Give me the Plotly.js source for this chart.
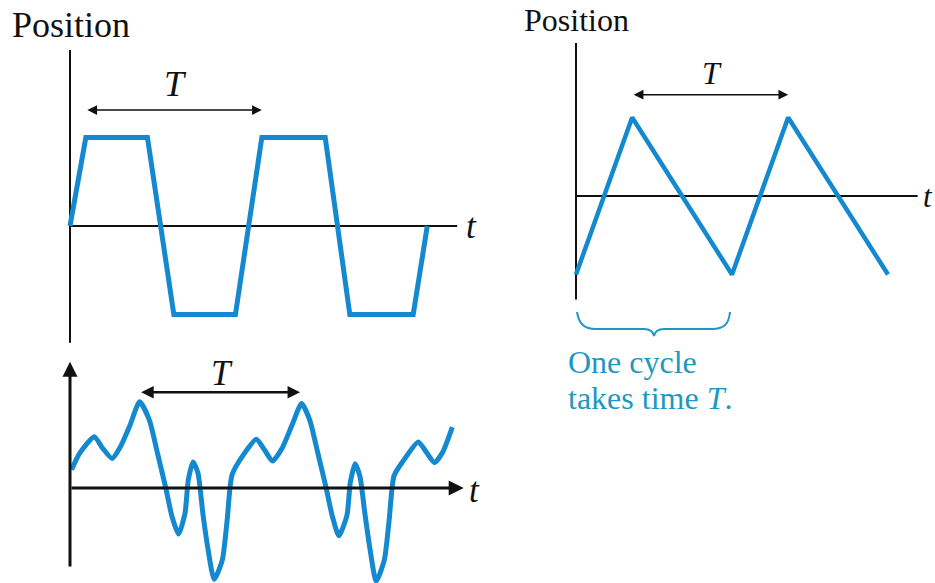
<html lang="en">
  <head>
    <meta charset="UTF-8" />
    <script src="https://cdn.plot.ly/plotly-3.0.1.min.js"></script>
    <style>
      #chart .annotation-text { font-family: 'Liberation Serif', 'Times New Roman', serif !important; }
    </style>
  </head>
  <body style="margin: 0">
    <div id="chart" style="width: 935px; height: 583px;"></div>
    <script>
      // top left: trapezoid wave, time in units of the period T
      const trapT = [0, 0.09, 0.44, 0.59, 0.94, 1.09, 1.45, 1.59, 1.95, 2.03];
      const trapY = [0, 1, 1, -1, -1, 1, 1, -1, -1, 0];

      // right: triangle wave
      const triT = [0, 0.36, 1.0, 1.36, 2.0];
      const triY = [-1, 1, -1, 1, -1];

      // bottom left: irregular but periodic wave
      const waveT = [0.01, 0.06, 0.15, 0.20, 0.26, 0.31, 0.37, 0.43, 0.49, 0.54, 0.59, 0.63, 0.67,
                     0.71, 0.73, 0.76, 0.79, 0.82, 0.85, 0.89, 0.94, 0.97, 1.0,
                     1.07, 1.15, 1.20, 1.25, 1.31, 1.37, 1.43, 1.48, 1.53, 1.58, 1.62, 1.66,
                     1.71, 1.73, 1.76, 1.79, 1.82, 1.85, 1.89, 1.94, 1.97, 2.0,
                     2.06, 2.15, 2.20, 2.25, 2.30, 2.36];
      const waveY = [0.21, 0.40, 0.59, 0.46, 0.34, 0.47, 0.72, 0.99, 0.78, 0.40, 0.01, -0.33, -0.53,
                     -0.29, 0.09, 0.30, 0.17, -0.29, -0.68, -1.05, -0.83, -0.37, 0.15,
                     0.38, 0.56, 0.44, 0.31, 0.46, 0.72, 0.97, 0.78, 0.40, 0.01, -0.33, -0.55,
                     -0.31, 0.06, 0.28, 0.13, -0.29, -0.68, -1.07, -0.83, -0.37, 0.14,
                     0.32, 0.53, 0.41, 0.29, 0.41, 0.70];

      const axisLabel = 'Position';
      const timeLabel = 't';
      const periodLabel = 'T';
      const noteLines = ['One cycle', 'takes time <i>T</i>.'];

      const W = 935, H = 583;
      const BLUE = '#1589cf';
      const TEAL = '#1f97c3';
      const INK = '#111';
      const SERIF = 'Liberation Serif';

      // place a subplot so that data (0,0) lands on pixel (ox,oy), sx/sy pixels per unit
      function frame(px0, px1, py0, py1, ox, oy, sx, sy, n) {
        const sfx = n === 1 ? '' : n;
        return {
          x: { domain: [px0 / W, px1 / W], range: [(px0 - ox) / sx, (px1 - ox) / sx],
               visible: false, fixedrange: true, anchor: 'y' + sfx },
          y: { domain: [1 - py1 / H, 1 - py0 / H], range: [(oy - py1) / sy, (oy - py0) / sy],
               visible: false, fixedrange: true, anchor: 'x' + sfx }
        };
      }
      const fA = frame(60, 470, 40, 352, 70, 226, 176, 88.5, 1);
      const fB = frame(55, 482, 354, 583, 70, 488, 162, 87, 2);
      const fC = frame(565, 932, 35, 346, 576, 196, 156, 78.5, 3);

      const px = x => x / W;
      const py = y => 1 - y / H;

      const traces = [
        { x: trapT, y: trapY, xaxis: 'x', yaxis: 'y', type: 'scatter', mode: 'lines',
          line: { color: BLUE, width: 5, shape: 'linear' } },
        { x: waveT, y: waveY, xaxis: 'x2', yaxis: 'y2', type: 'scatter', mode: 'lines',
          line: { color: BLUE, width: 5, shape: 'spline', smoothing: 0.6 } },
        { x: triT, y: triY, xaxis: 'x3', yaxis: 'y3', type: 'scatter', mode: 'lines',
          line: { color: BLUE, width: 4.5, shape: 'linear' } }
      ];

      const axisLine = (xr, yr, x0, y0, x1, y1, w) => ({
        type: 'line', xref: xr, yref: yr, x0: x0, y0: y0, x1: x1, y1: y1,
        line: { color: INK, width: w }, layer: 'below'
      });

      const P = (x, y) => px(x).toFixed(4) + ',' + py(y).toFixed(4);
      const bracePath = 'M' + P(577, 312) +
        ' C' + P(579, 324) + ' ' + P(584, 329) + ' ' + P(596, 329) +
        ' L' + P(644, 329) +
        ' C' + P(650, 329) + ' ' + P(653, 331) + ' ' + P(654, 336) +
        ' C' + P(655, 331) + ' ' + P(658, 329) + ' ' + P(664, 329) +
        ' L' + P(712, 329) +
        ' C' + P(724, 329) + ' ' + P(729, 324) + ' ' + P(730, 312);

      const shapes = [
        axisLine('x', 'y', 0, -1.32, 0, 1.99, 2),
        axisLine('x', 'y', 0, 0, 2.2, 0, 2),
        axisLine('x3', 'y3', 0, -1.32, 0, 1.95, 2),
        axisLine('x3', 'y3', 0, 0, 2.19, 0, 2),
        { type: 'path', xref: 'paper', yref: 'paper', path: bracePath,
          line: { color: TEAL, width: 2 } }
      ];

      // double headed arrow spanning one period
      function span(xr, yr, t0, t1, y, w, size) {
        return { xref: xr, yref: yr, axref: xr, ayref: yr, x: t1, y: y, ax: t0, ay: y,
                 text: '', showarrow: true, arrowside: 'end+start', arrowhead: 2,
                 arrowwidth: w, arrowsize: size, arrowcolor: INK };
      }
      function label(s, x, y, size, color, anchor) {
        return { xref: 'paper', yref: 'paper', x: px(x), y: py(y), text: s,
                 showarrow: false, xanchor: anchor || 'center', yanchor: 'middle',
                 font: { family: SERIF, size: size, color: color || INK } };
      }

      const annotations = [
        span('x', 'y', trapT[1], trapT[5], 1.31, 1.5, 1.3),
        span('x3', 'y3', triT[1], triT[3], 1.29, 1.5, 1.3),
        span('x2', 'y2', 0.43, 1.42, 1.10, 2.5, 1),
        // bottom-left axes with arrowheads
        { xref: 'x2', yref: 'y2', axref: 'x2', ayref: 'y2', x: 0, y: 1.45, ax: 0, ay: -0.92,
          text: '', showarrow: true, arrowhead: 2, arrowwidth: 3, arrowsize: 1, arrowcolor: INK },
        { xref: 'x2', yref: 'y2', axref: 'x2', ayref: 'y2', x: 2.43, y: 0, ax: 0, ay: 0,
          text: '', showarrow: true, arrowhead: 2, arrowwidth: 3, arrowsize: 1, arrowcolor: INK },
        label(axisLabel, 10, 25, 36, INK, 'left'),
        label(axisLabel, 522, 20, 32, INK, 'left'),
        label('<i>' + periodLabel + '</i>', 175, 84, 36),
        label('<i>' + periodLabel + '</i>', 712, 73, 32),
        label('<i>' + periodLabel + '</i>', 222, 373, 35),
        label('<i>' + timeLabel + '</i>', 471, 226, 35),
        label('<i>' + timeLabel + '</i>', 928, 196, 31),
        label('<i>' + timeLabel + '</i>', 474, 490, 35),
        label(noteLines[0], 566, 362, 32, TEAL, 'left'),
        label(noteLines[1], 566, 398, 32, TEAL, 'left')
      ];

      const layout = {
        width: W, height: H,
        margin: { l: 0, r: 0, t: 0, b: 0 },
        font: { family: SERIF, color: INK },
        paper_bgcolor: '#fff', plot_bgcolor: 'rgba(0,0,0,0)',
        showlegend: false, hovermode: false,
        xaxis: fA.x, yaxis: fA.y,
        xaxis2: fB.x, yaxis2: fB.y,
        xaxis3: fC.x, yaxis3: fC.y,
        shapes: shapes,
        annotations: annotations
      };

      Plotly.newPlot('chart', traces, layout, { displayModeBar: false, staticPlot: true });
    </script>
  </body>
</html>
